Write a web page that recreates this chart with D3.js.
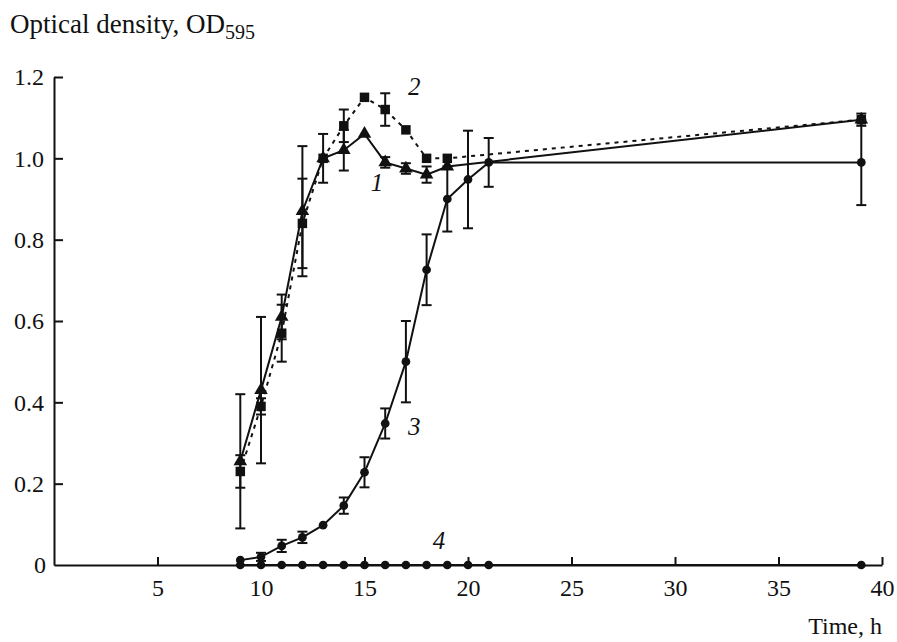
<!DOCTYPE html>
<html>
<head>
<meta charset="utf-8">
<script src="https://cdn.jsdelivr.net/npm/d3@7"></script>
<style>
  body { margin: 0; background: #fff; }
  svg text { font-family: "Liberation Serif", "Times New Roman", serif; fill: #111; }
</style>
</head>
<body>
<svg id="chart" width="897" height="642"></svg>
<script>
// curve 1 - triangles, solid line
const time1 = [9, 10, 11, 12, 13, 14, 15, 16, 17, 18, 19, 39];
const od1 = [0.255, 0.43, 0.61, 0.87, 1.0, 1.02, 1.06, 0.99, 0.975, 0.96, 0.98, 1.095];
const err1 = [0.165, 0.18, 0.055, 0.16, 0, 0.05, 0, 0.013, 0.013, 0.02, 0, 0];

// curve 2 - squares, dashed line
const time2 = [9, 10, 11, 12, 13, 14, 15, 16, 17, 18, 19, 39];
const od2 = [0.23, 0.39, 0.57, 0.84, 1.0, 1.08, 1.15, 1.12, 1.07, 1.0, 1.0, 1.095];
const err2 = [0.04, 0.02, 0.07, 0.11, 0.06, 0.04, 0, 0.04, 0, 0, 0, 0.015];

// curve 3 - circles, solid line
const time3 = [9, 10, 11, 12, 13, 14, 15, 16, 17, 18, 19, 20, 21, 39];
const od3 = [0.012, 0.02, 0.047, 0.068, 0.098, 0.146, 0.228, 0.348, 0.5, 0.726, 0.9, 0.948, 0.99, 0.99];
const err3 = [0, 0.01, 0.015, 0.014, 0, 0.02, 0.037, 0.037, 0.1, 0.087, 0.08, 0.12, 0.06, 0.105];

// curve 4 - circles on zero
const time4 = [9, 10, 11, 12, 13, 14, 15, 16, 17, 18, 19, 20, 21, 39];
const od4 = [0, 0, 0, 0, 0, 0, 0, 0, 0, 0, 0, 0, 0, 0];

const xTicks = [5, 10, 15, 20, 25, 30, 35, 40];
const yTicks = [0.2, 0.4, 0.6, 0.8, 1.0, 1.2];

const curveLabels = [
  { text: "1", t: 15.6, v: 0.92 },
  { text: "2", t: 17.4, v: 1.155 },
  { text: "3", t: 17.4, v: 0.32 },
  { text: "4", t: 18.6, v: 0.04 },
];

const svg = d3.select("#chart");
const x = d3.scaleLinear().domain([0, 40]).range([54, 882]);
const y = d3.scaleLinear().domain([0, 1.2]).range([565, 77]);
const serif = '"Liberation Serif", "Times New Roman", serif';

const toRows = (ts, vs, es) => ts.map((t, i) => ({ t, v: vs[i], e: es ? es[i] : 0 }));
const series = [
  { rows: toRows(time1, od1, err1), marker: "triangle", dash: null },
  { rows: toRows(time2, od2, err2), marker: "square", dash: "4,5" },
  { rows: toRows(time3, od3, err3), marker: "circle", dash: null },
  { rows: toRows(time4, od4, null), marker: "circle", dash: null },
];

// axes
const xAxis = d3.axisBottom(x).tickValues(xTicks).tickSize(-8).tickSizeOuter(0).tickPadding(14)
  .tickFormat(d3.format("d"));
const yAxis = d3.axisLeft(y).tickValues(yTicks).tickSize(-9).tickSizeOuter(0).tickPadding(10)
  .tickFormat(d3.format(".1f"));

const gx = svg.append("g").attr("transform", `translate(0,${y(0)})`).call(xAxis);
const gy = svg.append("g").attr("transform", `translate(${x(0)},0)`).call(yAxis);
[gx, gy].forEach((g) => {
  g.attr("font-family", serif);
  g.select(".domain").attr("stroke", "#111").attr("stroke-width", 2);
  g.selectAll(".tick line").attr("stroke", "#111").attr("stroke-width", 2);
  g.selectAll(".tick text").attr("font-size", 24).attr("fill", "#111");
});

svg.append("text").attr("x", 40).attr("y", y(0) + 8).attr("font-size", 24)
  .attr("text-anchor", "middle").text("0");

const title = svg.append("text").attr("x", 10).attr("y", 33).attr("font-size", 27);
title.append("tspan").text("Optical density, OD");
title.append("tspan").attr("font-size", 20).attr("dy", 6).text("595");

svg.append("text").attr("x", 882).attr("y", 634).attr("font-size", 24)
  .attr("text-anchor", "end").text("Time, h");

// error bars
const plot = svg.append("g");
series.forEach((s) => {
  const rows = s.rows.filter((d) => d.e > 0);
  const g = plot.append("g").attr("stroke", "#111").attr("stroke-width", 2);
  g.selectAll("line.bar").data(rows).join("line").attr("class", "bar")
    .attr("x1", (d) => x(d.t)).attr("x2", (d) => x(d.t))
    .attr("y1", (d) => y(d.v + d.e)).attr("y2", (d) => y(d.v - d.e));
  g.selectAll("line.capTop").data(rows).join("line").attr("class", "capTop")
    .attr("x1", (d) => x(d.t) - 5).attr("x2", (d) => x(d.t) + 5)
    .attr("y1", (d) => y(d.v + d.e)).attr("y2", (d) => y(d.v + d.e));
  g.selectAll("line.capBot").data(rows).join("line").attr("class", "capBot")
    .attr("x1", (d) => x(d.t) - 5).attr("x2", (d) => x(d.t) + 5)
    .attr("y1", (d) => y(d.v - d.e)).attr("y2", (d) => y(d.v - d.e));
});

// lines
const line = d3.line().x((d) => x(d.t)).y((d) => y(d.v));
series.forEach((s) => {
  plot.append("path").datum(s.rows).attr("d", line).attr("fill", "none")
    .attr("stroke", "#111").attr("stroke-width", 2)
    .attr("stroke-dasharray", s.dash);
});

// markers
const symbolFor = { triangle: d3.symbolTriangle, square: d3.symbolSquare, circle: d3.symbolCircle };
const sizeFor = { triangle: 80, square: 90, circle: 60 };
series.forEach((s) => {
  plot.append("g").selectAll("path").data(s.rows).join("path")
    .attr("transform", (d) => `translate(${x(d.t)},${y(d.v)})`)
    .attr("d", d3.symbol(symbolFor[s.marker], sizeFor[s.marker]))
    .attr("fill", "#111");
});

// curve labels
svg.append("g").selectAll("text").data(curveLabels).join("text")
  .attr("x", (d) => x(d.t)).attr("y", (d) => y(d.v))
  .attr("font-size", 25).attr("font-style", "italic").attr("text-anchor", "middle")
  .text((d) => d.text);
</script>
</body>
</html>
